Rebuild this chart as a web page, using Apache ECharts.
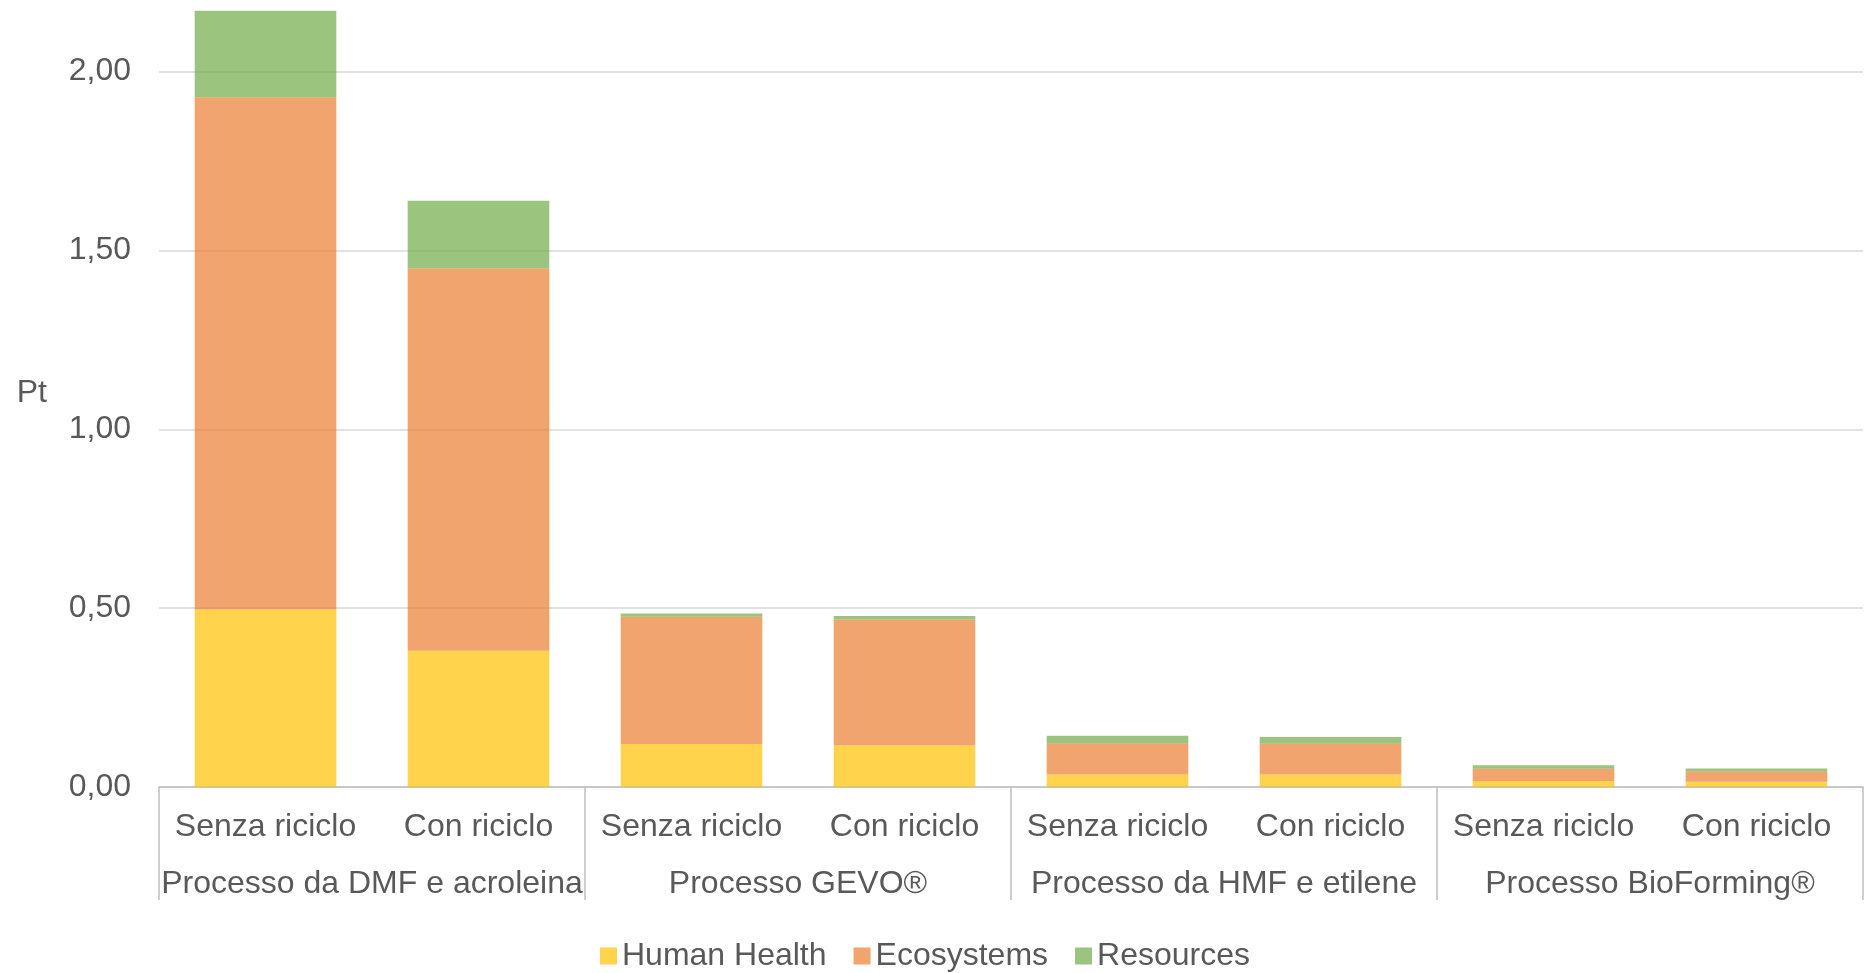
<!DOCTYPE html>
<html>
<head>
<meta charset="utf-8">
<title>Pt per processo</title>
<script src="https://cdn.jsdelivr.net/npm/echarts@6/dist/echarts.min.js"></script>
<style>
  html, body { margin: 0; padding: 0; background: #ffffff; }
  #chart { width: 1865px; height: 973px; }
</style>
</head>
<body>
<div id="chart"></div>
<script>
// Scenario labels (inner row) and process names (outer row)
const categories = [
  'Senza riciclo', 'Con riciclo',
  'Senza riciclo', 'Con riciclo',
  'Senza riciclo', 'Con riciclo',
  'Senza riciclo', 'Con riciclo'
];
const groups = [
  'Processo da DMF e acroleina',
  'Processo GEVO®',
  'Processo da HMF e etilene',
  'Processo BioForming®'
];

// Damage categories (Pt), stacked per bar
const humanHealth = [0.496, 0.381, 0.120, 0.117, 0.035, 0.035, 0.017, 0.015];
const ecosystems  = [1.432, 1.069, 0.356, 0.351, 0.087, 0.086, 0.034, 0.029];
const resources   = [0.242, 0.189, 0.009, 0.010, 0.021, 0.019, 0.010, 0.008];

const yTicks = [0, 0.5, 1.0, 1.5, 2.0];

const FONT = '"Liberation Sans", Arial, sans-serif';
const TEXT = '#595959';

const chart = echarts.init(document.getElementById('chart'), null, { renderer: 'canvas' });

function barSeries(name, data, color) {
  return {
    name: name,
    type: 'bar',
    stack: 'total',
    data: data,
    barWidth: '66.5%',
    itemStyle: { color: color },
    emphasis: { disabled: true }
  };
}

chart.setOption({
  animation: false,
  textStyle: { fontFamily: FONT },
  grid: { left: 159, right: 2, top: 0, bottom: 186 },
  legend: {
    bottom: -4,
    left: 595,
    padding: 5,
    icon: 'rect',
    itemWidth: 17,
    itemHeight: 17,
    itemGap: 27,
    textStyle: { fontSize: 32, color: TEXT, fontFamily: FONT },
    data: ['Human Health', 'Ecosystems', 'Resources']
  },
  xAxis: [
    {
      type: 'category',
      data: categories,
      position: 'bottom',
      axisLine: { show: true, lineStyle: { color: '#bfbfbf', width: 1.5 } },
      axisTick: { show: false },
      axisLabel: { fontSize: 32, color: TEXT, margin: 24, interval: 0, fontFamily: FONT }
    },
    {
      type: 'category',
      data: groups,
      position: 'bottom',
      gridIndex: 0,
      axisLine: { show: false },
      axisTick: { show: true, length: 113, lineStyle: { color: '#bfbfbf', width: 1.5 } },
      axisLabel: { fontSize: 32, color: TEXT, margin: 81, interval: 0, fontFamily: FONT }
    }
  ],
  yAxis: {
    type: 'value',
    min: 0,
    max: 2.2,
    interval: 0.5,
    name: 'Pt',
    nameLocation: 'middle',
    nameRotate: 0,
    nameGap: 112,
    nameTextStyle: { fontSize: 32, color: TEXT, fontFamily: FONT, padding: [0, 0, 7, 0] },
    axisLine: { show: false },
    axisTick: { show: false },
    axisLabel: {
      fontSize: 32,
      color: TEXT,
      margin: 28,
      fontFamily: FONT,
      padding: [8, 0, 0, 0],
      showMaxLabel: false,
      formatter: function (v) {
        return yTicks.indexOf(v) >= 0 ? v.toFixed(2).replace('.', ',') : '';
      }
    },
    splitLine: { show: true, showMaxLine: false, lineStyle: { color: '#d9d9d9', width: 1.5 } }
  },
  series: [
    barSeries('Human Health', humanHealth, 'rgba(255,192,0,0.7)'),
    barSeries('Ecosystems', ecosystems, 'rgba(237,125,49,0.7)'),
    barSeries('Resources', resources, 'rgba(112,173,71,0.7)')
  ]
});
</script>
</body>
</html>
